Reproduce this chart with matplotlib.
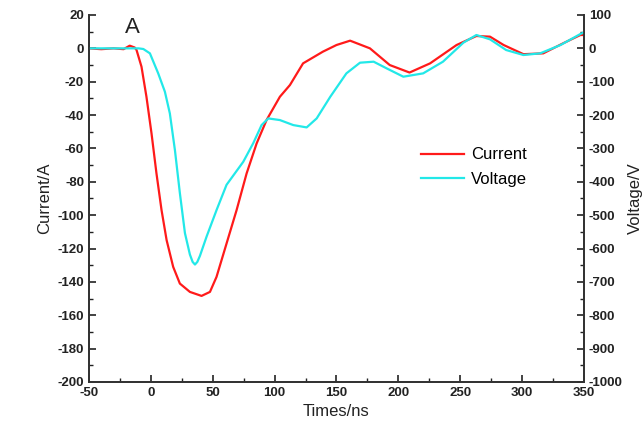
import matplotlib
matplotlib.use("Agg")
import matplotlib.pyplot as plt
import matplotlib.ticker as mticker

# Current trace (ns, A)
current_t = [-50, -40, -30, -22, -17, -13, -11.5, -7.5, -3.5, 0.6, 4.6, 8.7, 12.8, 18.1, 23.5,
             31.6, 41, 47.8, 53.1, 61.2, 69.3, 77.4, 85.5, 93.5, 104.3, 112.4, 123, 139, 150,
             161, 177, 193, 209, 225.6, 247, 263, 274, 285, 301, 317, 333, 347, 350]
current_a = [0, -0.5, 0, -0.5, 1.6, 0.5, -1, -11, -29, -51, -75, -97, -115, -131, -141,
             -146, -148.4, -146, -137, -117, -97, -75, -57, -43, -29, -22, -9, -2, 2,
             4.6, 0, -10, -14.5, -9, 2, 7.4, 7, 2, -3.5, -3, 3, 8, 8]

# Voltage trace (ns, V)
voltage_t = [-50, -35, -20, -10, -6, -0.7, 6, 11.4, 15.4, 19.5, 23.5, 27.6, 31.6, 33.8, 35.7, 37.6, 39.7,
             45.1, 53.2, 61.2, 74.7, 82.8, 89.5, 94.9, 104.3, 115.1, 125.9, 134, 145, 158,
             169, 180, 190.5, 204, 220, 236, 252.5, 263, 274, 287, 301, 314.5, 331, 347, 350]
voltage_v = [0, 0, 0, 0, -2, -15, -75, -130, -195, -305, -434, -554, -618, -640, -648, -640, -622,
             -564, -484, -409, -340, -284, -230, -210, -215, -230, -237, -210, -145, -75,
             -43, -40, -60, -85, -75, -40, 17, 40, 27, -5, -20, -15, 10, 43, 48]

plt.rcParams["font.family"] = ["Liberation Sans", "DejaVu Sans"]
plt.rcParams["axes.unicode_minus"] = False

fig = plt.figure(figsize=(6.44, 4.28), dpi=100)
ax = fig.add_axes([0.138, 0.1075, 0.769, 0.8575])
ax2 = ax.twinx()

(l1,) = ax.plot(current_t, current_a, color="#ff1a1a", linewidth=1.6, label="Current")
(l2,) = ax2.plot(voltage_t, voltage_v, color="#22e8e8", linewidth=1.6, label="Voltage")

ax.set_xlim(-50, 350)
ax.set_ylim(-200, 20)
ax2.set_ylim(-1000, 100)

ax.xaxis.set_major_locator(mticker.MultipleLocator(50))
ax.xaxis.set_minor_locator(mticker.MultipleLocator(25))
ax.yaxis.set_major_locator(mticker.MultipleLocator(20))
ax.yaxis.set_minor_locator(mticker.MultipleLocator(10))
ax2.yaxis.set_major_locator(mticker.MultipleLocator(100))
ax2.yaxis.set_minor_locator(mticker.MultipleLocator(50))

for a in (ax, ax2):
    a.spines["top"].set_visible(False)
    for s in a.spines.values():
        s.set_linewidth(1.3)
        s.set_color("#333333")
    a.tick_params(which="major", direction="in", length=5, width=1.2, labelsize=9.5, colors="#222222")
    a.tick_params(which="minor", direction="in", length=3, width=1.0, colors="#222222")
    for lab in a.get_xticklabels() + a.get_yticklabels():
        lab.set_fontweight("bold")

ax.set_xlabel("Times/ns", fontsize=12, labelpad=4, color="#222222")
ax.set_ylabel("Current/A", fontsize=12, labelpad=4, color="#222222")
ax2.set_ylabel("Voltage/V", fontsize=12, labelpad=4, color="#222222")

ax.text(0.072, 0.995, "A", transform=ax.transAxes, fontsize=16, va="top", ha="left", color="#222222")

ax.legend(handles=[l1, l2], loc="upper left", bbox_to_anchor=(0.64, 0.68), frameon=False,
          fontsize=12, handlelength=2.6, handletextpad=0.4, labelspacing=0.55)

fig.savefig("out.png", dpi=100)
